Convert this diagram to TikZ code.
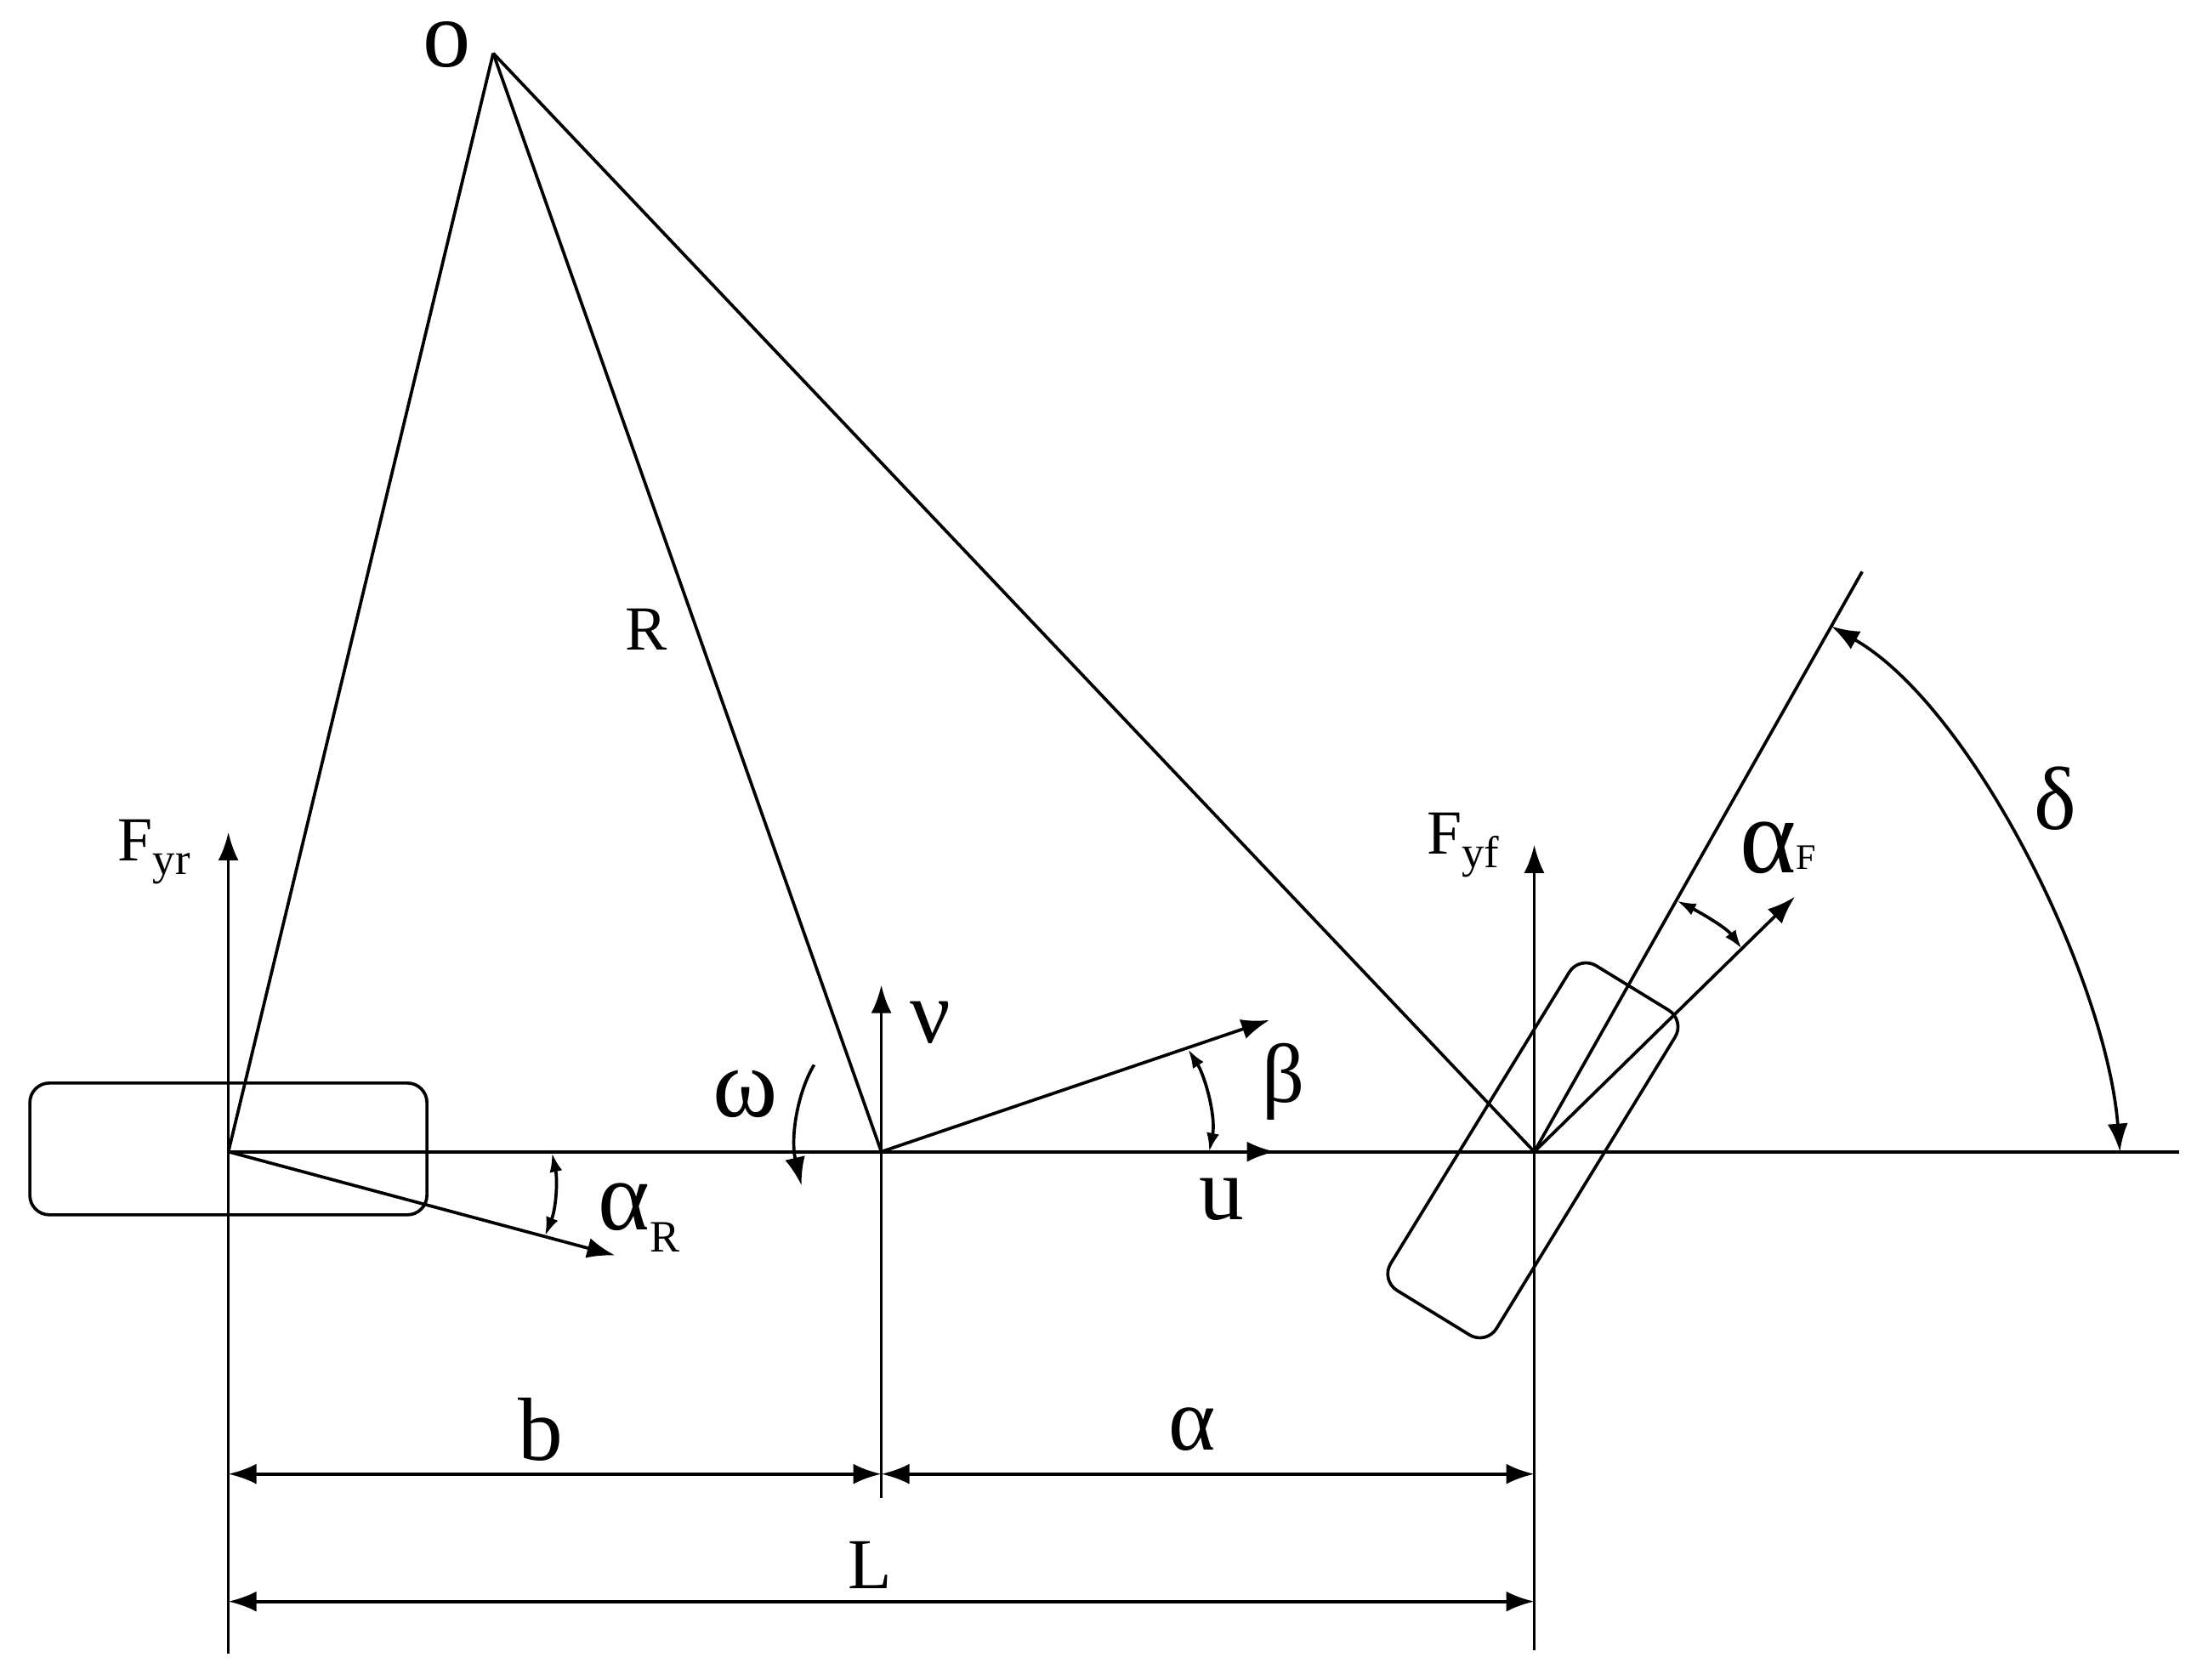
\documentclass[tikz,border=0pt]{standalone}
\usepackage{fontspec}
\setmainfont{Liberation Serif}
\usetikzlibrary{arrows.meta}
\newcommand{\subtext}[2][15]{\raisebox{-.22em}{\fontsize{#1}{#1}\selectfont #2}}
\tikzset{
  x=0.01648cm, y=-0.01648cm,
  ln/.style={draw=black, line width=1.05pt},
  big/.style={ln, -{Latex[length=0.33cm,width=0.24cm]}},
  dim/.style={ln, {Latex[length=0.33cm,width=0.24cm]}-{Latex[length=0.33cm,width=0.24cm]}},
  small/.style={ln, {Latex[length=0.22cm,width=0.15cm]}-{Latex[length=0.22cm,width=0.15cm]}},
  tyre/.style={draw=black, line width=1.05pt, rectangle, rounded corners=0.23cm, inner sep=0pt},
  lab/.style={inner sep=0pt, anchor=center, font=\fontsize{21}{21}\selectfont},
  labbig/.style={inner sep=0pt, anchor=center, font=\fontsize{30}{30}\selectfont},
}
\begin{document}
\begin{tikzpicture}
\useasboundingbox (0,0) rectangle (1568,1199);
% key points
\coordinate (O) at (352,38);
\coordinate (A) at (163,822);
\coordinate (C) at (629,822);
\coordinate (F) at (1095,822);
\coordinate (Hend) at (1555,822);
\coordinate (Atop) at (163,594);
\coordinate (Abot) at (163,1180);
\coordinate (Ctop) at (629,703);
\coordinate (Cbot) at (629,1069);
\coordinate (Ftop) at (1095,603);
\coordinate (Fbot) at (1095,1178);
\coordinate (Utip) at (910,822);
\coordinate (Btip) at (906,728);
\coordinate (Rtip) at (439,896);
\coordinate (Ftip) at (1281,640);
\coordinate (Send) at (1329,408);
\coordinate (D1) at (163,1052);
\coordinate (D2) at (629,1052);
\coordinate (D3) at (1095,1052);
\coordinate (L1) at (163,1143);
\coordinate (L2) at (1095,1143);
% tyres
\node[tyre, minimum width=4.67cm, minimum height=1.55cm] (rear) at (163,820) {};
% triangle lines
\draw[ln] (O) -- (A);
\draw[ln] (O) -- (C);
\draw[ln] (O) -- (F);
\draw[ln] (A) -- (Hend);
\draw[big] (Abot) -- (Atop);
\draw[big] (Cbot) -- (Ctop);
\draw[big] (Fbot) -- (Ftop);
\draw[big] (C) -- (Utip);
\draw[big] (C) -- (Btip);
\draw[big] (A) -- (Rtip);
\draw[big] (F) -- (Ftip);
\draw[ln] (F) -- (Send);
\node[tyre, minimum width=4.48cm, minimum height=1.46cm, rotate=58.5] (front) at (1094,821) {};
% dimensions
\draw[dim] (D1) -- (D2);
\draw[dim] (D2) -- (D3);
\draw[dim] (L1) -- (L2);
% angle arcs
\coordinate (dS) at (1307,447);
\coordinate (dE) at (1513,822);
\draw[dim] (dS) .. controls (1407,504) and (1503,697) .. (dE);
\coordinate (bS) at (848,749);
\coordinate (bE) at (863,822);
\draw[small] (bS) .. controls (860,768) and (868,797) .. (bE);
\coordinate (rS) at (394,823);
\coordinate (rE) at (389,882);
\draw[small] (rS) .. controls (398,842) and (397,862) .. (rE);
\coordinate (fS) at (1197,643);
\coordinate (fE) at (1243,677);
\draw[small] (fS) .. controls (1213,651) and (1232,662) .. (fE);
\coordinate (wS) at (581,760);
\coordinate (wE) at (572,846);
\draw[big] (wS) .. controls (569,780) and (564,812) .. (wE);
% labels
\node[labbig, font=\fontsize{32}{32}\selectfont] (lo) at (319,32) {o};
\node[lab] (lR) at (461,449) {R};
\node[lab] (lFr) at (110,608) {F\subtext{yr}};
\node[lab] (lFf) at (1044,603) {F\subtext{yf}};
\node[labbig] (lv) at (664,730) {ν};
\node[labbig, font=\fontsize{33}{33}\selectfont] (lw) at (532,781) {ω};
\node[labbig, font=\fontsize{28}{28}\selectfont] (lb) at (916,772) {β};
\node[labbig] (lu) at (872,856) {u};
\node[labbig] (ld) at (1467,570) {δ};
\node[labbig, font=\fontsize{36}{36}\selectfont] (laF) at (1269,605) {α\raisebox{1pt}{\fontsize{12}{12}\selectfont F}};
\node[labbig, font=\fontsize{33}{33}\selectfont] (laR) at (456,869) {α\subtext{R}};
\node[labbig] (lbb) at (386,1020) {b};
\node[labbig] (la) at (851,1020) {α};
\node[lab, font=\fontsize{24}{24}\selectfont] (lL) at (621,1117) {L};
\end{tikzpicture}
\end{document}
